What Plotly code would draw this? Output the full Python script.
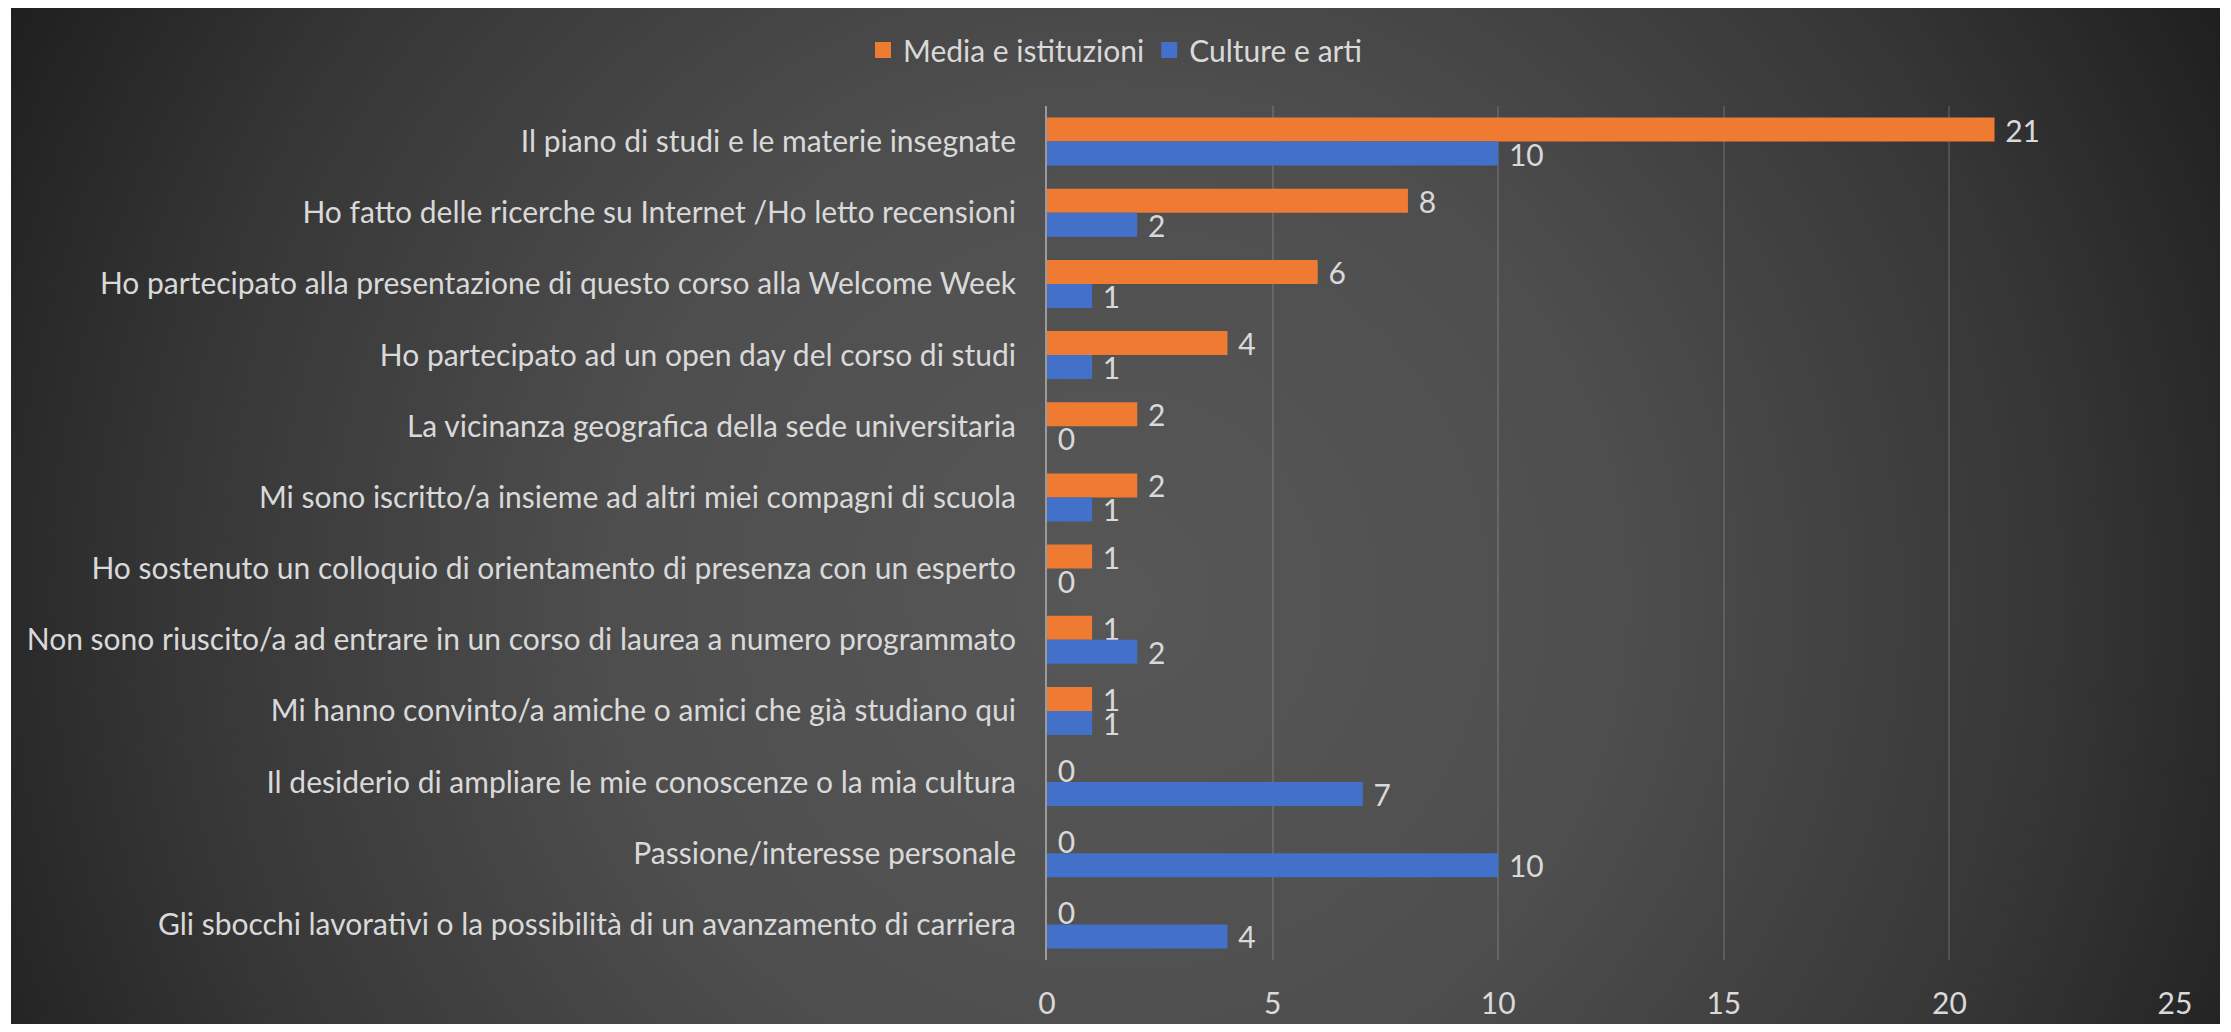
import base64
import plotly.graph_objects as go

categories = [
    "Il piano di studi e le materie insegnate",
    "Ho fatto delle ricerche su Internet /Ho letto recensioni",
    "Ho partecipato alla presentazione di questo corso alla Welcome Week",
    "Ho partecipato ad un open day del corso di studi",
    "La vicinanza geografica della sede universitaria",
    "Mi sono iscritto/a insieme ad altri miei compagni di scuola",
    "Ho sostenuto un colloquio di orientamento di presenza con un esperto",
    "Non sono riuscito/a ad entrare in un corso di laurea a numero programmato",
    "Mi hanno convinto/a amiche o amici che già studiano qui",
    "Il desiderio di ampliare le mie conoscenze o la mia cultura",
    "Passione/interesse personale",
    "Gli sbocchi lavorativi o la possibilità di un avanzamento di carriera",
]
media_istituzioni = [21, 8, 6, 4, 2, 2, 1, 1, 1, 0, 0, 0]
culture_arti = [10, 2, 1, 1, 0, 1, 0, 2, 1, 7, 10, 4]
series_names = ["Media e istituzioni", "Culture e arti"]
x_ticks = [0, 5, 10, 15, 20, 25]

# page body has an 8px default margin, so the figure is 16px smaller than the window
W, H = 2215, 1016
L, R, T, B = 1039, 48, 98, 64
PW, PH = W - L - R, H - T - B
FONT = "Lato, Roboto, sans-serif"
FS = 30
TXT = "#d9d9d9"
ORANGE = "#EF7B32"
BLUE = "#4370C9"

# background radial gradient (decoration)
BX0, BX1 = 3, 2212
BW, BH = BX1 - BX0, H
svg = f'''<svg xmlns="http://www.w3.org/2000/svg" width="{BW}" height="{BH}" viewBox="0 0 {BW} {BH}" preserveAspectRatio="none">
<defs><radialGradient id="g" gradientUnits="userSpaceOnUse" cx="1104" cy="590" r="1250">
<stop offset="0" stop-color="#575757"/>
<stop offset="0.4" stop-color="#4e4e4e"/>
<stop offset="0.75" stop-color="#363636"/>
<stop offset="1" stop-color="#1f1f1f"/>
</radialGradient></defs>
<rect width="{BW}" height="{BH}" fill="url(#g)"/></svg>'''
src = "data:image/svg+xml;base64," + base64.b64encode(svg.encode()).decode()

fig = go.Figure()
for name, vals, col in [(series_names[0], media_istituzioni, ORANGE),
                        (series_names[1], culture_arti, BLUE)]:
    fig.add_trace(go.Bar(
        name=name, y=categories, x=vals, orientation="h",
        marker=dict(color=col, line=dict(width=0)),
        text=vals, texttemplate=" %{x}", textposition="outside",
        textfont=dict(family=FONT, size=FS, color=TXT), cliponaxis=False,
        constraintext="none", showlegend=False,
    ))
# legend entries with larger square swatches
for name, col in [(series_names[0], ORANGE), (series_names[1], BLUE)]:
    fig.add_trace(go.Scatter(
        name=name, x=[None], y=[None], mode="markers",
        marker=dict(symbol="square", size=18, color=col), showlegend=True,
    ))

fig.update_layout(
    width=W, height=H,
    margin=dict(l=L, r=R, t=T, b=B, autoexpand=False),
    paper_bgcolor="white", plot_bgcolor="rgba(0,0,0,0)",
    barmode="group", bargap=0.326, bargroupgap=0,
    font=dict(family=FONT, size=FS, color=TXT),
    showlegend=True,
    legend=dict(orientation="h", xref="container", yref="container",
                x=(1115 - 8) / W, xanchor="center", y=1 - 42 / H, yanchor="middle",
                font=dict(family=FONT, size=FS, color=TXT),
                bgcolor="rgba(0,0,0,0)", traceorder="normal",
                itemwidth=30, tracegroupgap=0),
    images=[dict(source=src, xref="paper", yref="paper",
                 x=(BX0 - L) / PW, y=(H - B) / PH,
                 sizex=BW / PW, sizey=BH / PH,
                 xanchor="left", yanchor="top", sizing="stretch", layer="below")],
    xaxis=dict(range=[0, 25], tickvals=x_ticks, showgrid=True,
               gridcolor="rgba(255,255,255,0.13)", gridwidth=2, zeroline=False,
               ticks="outside", ticklen=17, tickcolor="rgba(0,0,0,0)",
               tickfont=dict(family=FONT, size=FS, color=TXT), fixedrange=True,
               automargin=False),
    yaxis=dict(autorange="reversed", showline=True, linecolor="#9a9a9a", linewidth=2,
               showgrid=False, ticks="outside", ticklen=23, tickcolor="rgba(0,0,0,0)",
               tickfont=dict(family=FONT, size=FS, color=TXT), automargin=False),
)

fig.write_html("out.html")
